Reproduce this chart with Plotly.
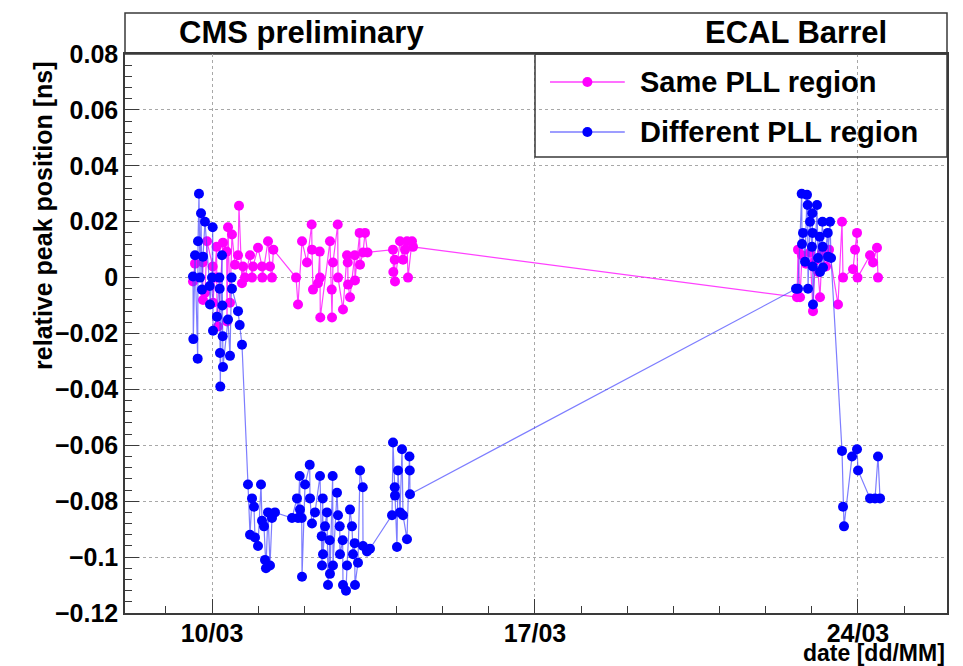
import numpy as np
import pandas as pd
import plotly.graph_objects as go

# Day of March (fractional) and relative peak position [ns]
same_day = [
    9.588, 9.632, 9.798, 9.805, 9.848, 9.892, 10.015, 10.022, 10.100, 10.104,
    10.108, 10.130, 10.238, 10.318, 10.325, 10.347, 10.390, 10.433, 10.498, 10.564,
    10.585, 10.650, 10.672,
    10.715, 10.824, 10.867, 10.889, 10.997, 11.084, 11.090, 11.214, 11.257, 11.300,
    11.330,
    11.821, 11.864, 11.951, 12.059, 12.160, 12.167, 12.189, 12.297, 12.335, 12.341,
    12.347, 12.557, 12.595, 12.601, 12.622, 12.725, 12.731, 12.839, 12.926, 12.942,
    12.948, 12.991, 13.093, 13.099, 13.200, 13.208, 13.273, 13.316, 13.370,
    13.923, 13.930, 13.960, 13.966, 14.075, 14.140, 14.183, 14.226, 14.248, 14.334,
    14.356,
    22.679, 22.700, 22.744, 22.787, 22.874, 22.960, 23.025, 23.069, 23.134, 23.177,
    23.220, 23.307, 23.372, 23.567, 23.654, 23.676, 23.892, 23.936, 23.979, 23.990,
    24.261, 24.326, 24.412, 24.434,
]
same_val = [
    -0.0014, 0.005, 0.0054, -0.008, -0.0054, 0.013, 0.004, -0.009, 0.011, 0.0,
    -0.014, -0.0175, 0.0125, 0.0093, -0.0157, 0.018, -0.009, 0.0154, 0.0046, 0.008,
    0.0257, -0.002, 0.004,
    0.0, 0.008, 0.0, 0.004, 0.0107, 0.004, 0.0, 0.013, 0.004, 0.0,
    0.010,
    0.0, -0.0096, 0.013, 0.0054, 0.019, 0.010, -0.0043, -0.002, 0.0093, 0.0,
    -0.0143, 0.013, -0.0043, -0.0143, 0.0054, 0.019, 0.0, -0.0114, 0.008, 0.0054,
    -0.0025, -0.007, 0.008, -0.001, 0.016, 0.0046, 0.009, 0.016, 0.009,
    0.010, 0.002, 0.0064, -0.0014, 0.013, 0.0064, 0.010, 0.013, 0.0, 0.013,
    0.011,
    -0.007, 0.010, -0.007, 0.008, 0.005, 0.009, -0.012, 0.006, 0.002, -0.007,
    0.009, 0.004, 0.010, -0.0096, 0.020, 0.0, 0.003, 0.010, 0.016, 0.0,
    0.008, 0.0054, 0.0107, 0.0,
]

diff_day = [
    9.588, 9.595, 9.632, 9.690, 9.697, 9.718, 9.740, 9.762, 9.783, 9.805,
    9.848, 9.950, 9.957, 10.000, 10.015, 10.022, 10.108, 10.160, 10.166, 10.173,
    10.180, 10.217, 10.225, 10.232, 10.238, 10.347, 10.390, 10.425, 10.433, 10.564,
    10.600, 10.650,
    10.780, 10.824, 10.867, 10.910, 10.932, 10.997, 11.062, 11.084, 11.127, 11.149,
    11.170, 11.214, 11.257, 11.300, 11.365,
    11.734, 11.842, 11.864, 11.900, 11.907, 11.945, 11.951, 12.016, 12.118, 12.124,
    12.167, 12.232, 12.341, 12.378, 12.384, 12.400, 12.406, 12.449, 12.492, 12.514,
    12.550, 12.557, 12.615, 12.622, 12.709, 12.731, 12.768, 12.774, 12.832, 12.839,
    12.904, 12.926, 12.991, 13.034, 13.056, 13.092, 13.099, 13.164, 13.208, 13.267,
    13.273, 13.359, 13.424,
    13.901, 13.923, 13.960, 13.966, 14.009, 14.031, 14.075, 14.118, 14.140, 14.226,
    14.280, 14.286, 14.291,
    22.657, 22.700, 22.780, 22.787, 22.809, 22.852, 22.895, 22.910, 22.917, 22.960,
    23.003, 23.010, 23.016, 23.020, 23.025, 23.112, 23.134, 23.170, 23.177, 23.230,
    23.236, 23.242, 23.345, 23.351, 23.394, 23.416,
    23.654, 23.676, 23.697, 23.871, 23.979, 24.001, 24.261, 24.369, 24.434, 24.478,
]
diff_val = [
    0.0004, -0.022, 0.008, -0.029, 0.013, 0.030, 0.0, 0.023, -0.0043, 0.0075,
    0.020, -0.003, -0.0096, 0.0, 0.018, -0.019, -0.014, 0.0, -0.004, -0.027,
    -0.039, 0.008, -0.010, -0.021, -0.032, -0.015, -0.028, 0.0, -0.004, -0.012,
    -0.017, -0.024,
    -0.074, -0.092, -0.079, -0.082, -0.093, -0.096, -0.074, -0.087, -0.089, -0.101,
    -0.104, -0.084, -0.103, -0.086, -0.084,
    -0.086, -0.079, -0.086, -0.071, -0.083, -0.086, -0.107, -0.074, -0.067, -0.079,
    -0.088, -0.084, -0.071, -0.0925, -0.103, -0.079, -0.099, -0.089, -0.084, -0.110,
    -0.094, -0.106, -0.071, -0.103, -0.077, -0.085, -0.089, -0.099, -0.094, -0.110,
    -0.112, -0.103, -0.083, -0.089, -0.099, -0.095, -0.110, -0.102, -0.069, -0.075,
    -0.096, -0.098, -0.097,
    -0.085, -0.059, -0.075, -0.078, -0.0964, -0.069, -0.084, -0.0614, -0.085, -0.0936,
    -0.064, -0.069, -0.0775,
    -0.004, -0.004, 0.030, 0.012, 0.016, 0.0057, 0.0296, 0.026, -0.004, 0.020,
    0.011, 0.023, 0.016, 0.004, -0.0096, 0.026, 0.007, 0.0146, 0.002, 0.020,
    0.011, 0.0036, 0.016, 0.0075, 0.020, 0.007,
    -0.062, -0.082, -0.089, -0.064, -0.0614, -0.069, -0.079, -0.079, -0.064, -0.079,
]

x_tick_dates = ["2022-03-10", "2022-03-17", "2022-03-24"]
x_tick_text = ["10/03", "17/03", "24/03"]
x_range = ["2022-03-08 02:45", "2022-03-25 22:18"]
y_range = [-0.12, 0.08]

series_names = ["Same PLL region", "Different PLL region"]
series_colors = ["#ff00ff", "#0000ff"]
line_colors = ["rgba(255,0,255,0.75)", "rgba(70,70,255,0.7)"]

month_start = pd.Timestamp("2022-03-01")


def to_time(days):
    return month_start + pd.to_timedelta(np.asarray(days) - 1.0, unit="D")


FONT = "Liberation Sans"
fig = go.Figure()

for name, days, vals, mc, lc in zip(series_names, [same_day, diff_day], [same_val, diff_val],
                                    series_colors, line_colors):
    fig.add_trace(go.Scatter(
        x=to_time(days), y=vals, mode="lines+markers", name=name,
        line=dict(color=lc, width=1.2),
        marker=dict(color=mc, size=10, symbol="circle"),
        showlegend=False,
    ))

frame = "#3a3a3a"
grid = "#a8a8a8"

fig.update_layout(
    width=963, height=666,
    margin=dict(l=125, r=16, t=54, b=53),
    paper_bgcolor="white", plot_bgcolor="white",
    font=dict(family=FONT, color="black"),
)

fig.update_xaxes(
    type="date", range=x_range,
    tickvals=x_tick_dates, ticktext=x_tick_text,
    ticks="inside", ticklen=14, tickcolor=frame, tickwidth=1,
    tickfont=dict(family=FONT, size=25, weight="bold"),
    ticklabelstandoff=-3,
    showgrid=True, gridcolor=grid, griddash="dot", gridwidth=1,
    showline=True, linecolor=frame, linewidth=1.5, mirror=True,
    zeroline=False,
    minor=dict(dtick=86400000, tick0="2022-03-10", ticks="inside", ticklen=7,
               tickcolor=frame, showgrid=False),
)

fig.update_yaxes(
    range=y_range, dtick=0.02, tick0=0,
    ticks="inside", ticklen=14, tickcolor=frame, tickwidth=1,
    tickfont=dict(family=FONT, size=25, weight="bold"),
    showgrid=True, gridcolor=grid, griddash="dot", gridwidth=1,
    showline=True, linecolor=frame, linewidth=1.5, mirror=True,
    zeroline=False,
    minor=dict(dtick=0.004, ticks="inside", ticklen=7, tickcolor=frame, showgrid=False),
)

# Header box above the frame
fig.add_shape(type="rect", xref="paper", yref="paper", x0=0, x1=1, y0=1, y1=1.0733,
              line=dict(color=frame, width=1.5), layer="below")
fig.add_annotation(text="CMS preliminary", xref="paper", yref="paper", x=0.2153, y=1.0376,
                   xanchor="center", yanchor="middle", showarrow=False,
                   font=dict(family=FONT, size=31, weight="bold"))
fig.add_annotation(text="ECAL Barrel", xref="paper", yref="paper", x=0.816, y=1.0376,
                   xanchor="center", yanchor="middle", showarrow=False,
                   font=dict(family=FONT, size=31, weight="bold"))

# Axis titles
fig.add_annotation(text="relative peak position [ns]", xref="paper", yref="paper",
                   x=-0.1, y=0.71, xanchor="center", yanchor="middle",
                   textangle=-90, showarrow=False,
                   font=dict(family=FONT, size=25, weight="bold"))
fig.add_annotation(text="date [dd/MM]", xref="paper", yref="paper", x=1.0, y=-0.0715,
                   xanchor="right", yanchor="middle", showarrow=False,
                   font=dict(family=FONT, size=23, weight="bold"))

# Legend box
lx0, lx1, ly0, ly1 = 0.4988, 1.0, 0.8157, 1.0
fig.add_shape(type="rect", xref="paper", yref="paper", x0=lx0, x1=lx1, y0=ly0, y1=ly1,
              line=dict(color=frame, width=1.5), fillcolor="rgba(0,0,0,0)")
rows_y = [0.9499, 0.8605]
for name, mc, lc, ry in zip(series_names, series_colors, line_colors, rows_y):
    fig.add_shape(type="line", xref="paper", yref="paper", x0=0.517, x1=0.608, y0=ry, y1=ry,
                  line=dict(color=lc, width=1.5))
    fig.add_shape(type="circle", xref="paper", yref="paper", xsizemode="pixel",
                  ysizemode="pixel", xanchor=0.5625, yanchor=ry, x0=-5, x1=5, y0=-5, y1=5,
                  fillcolor=mc, line=dict(color=mc, width=0))
    fig.add_annotation(text=name, xref="paper", yref="paper", x=0.624, y=ry,
                       xanchor="left", yanchor="middle", showarrow=False,
                       font=dict(family=FONT, size=29, weight="bold"))

fig.write_html("out.html")
